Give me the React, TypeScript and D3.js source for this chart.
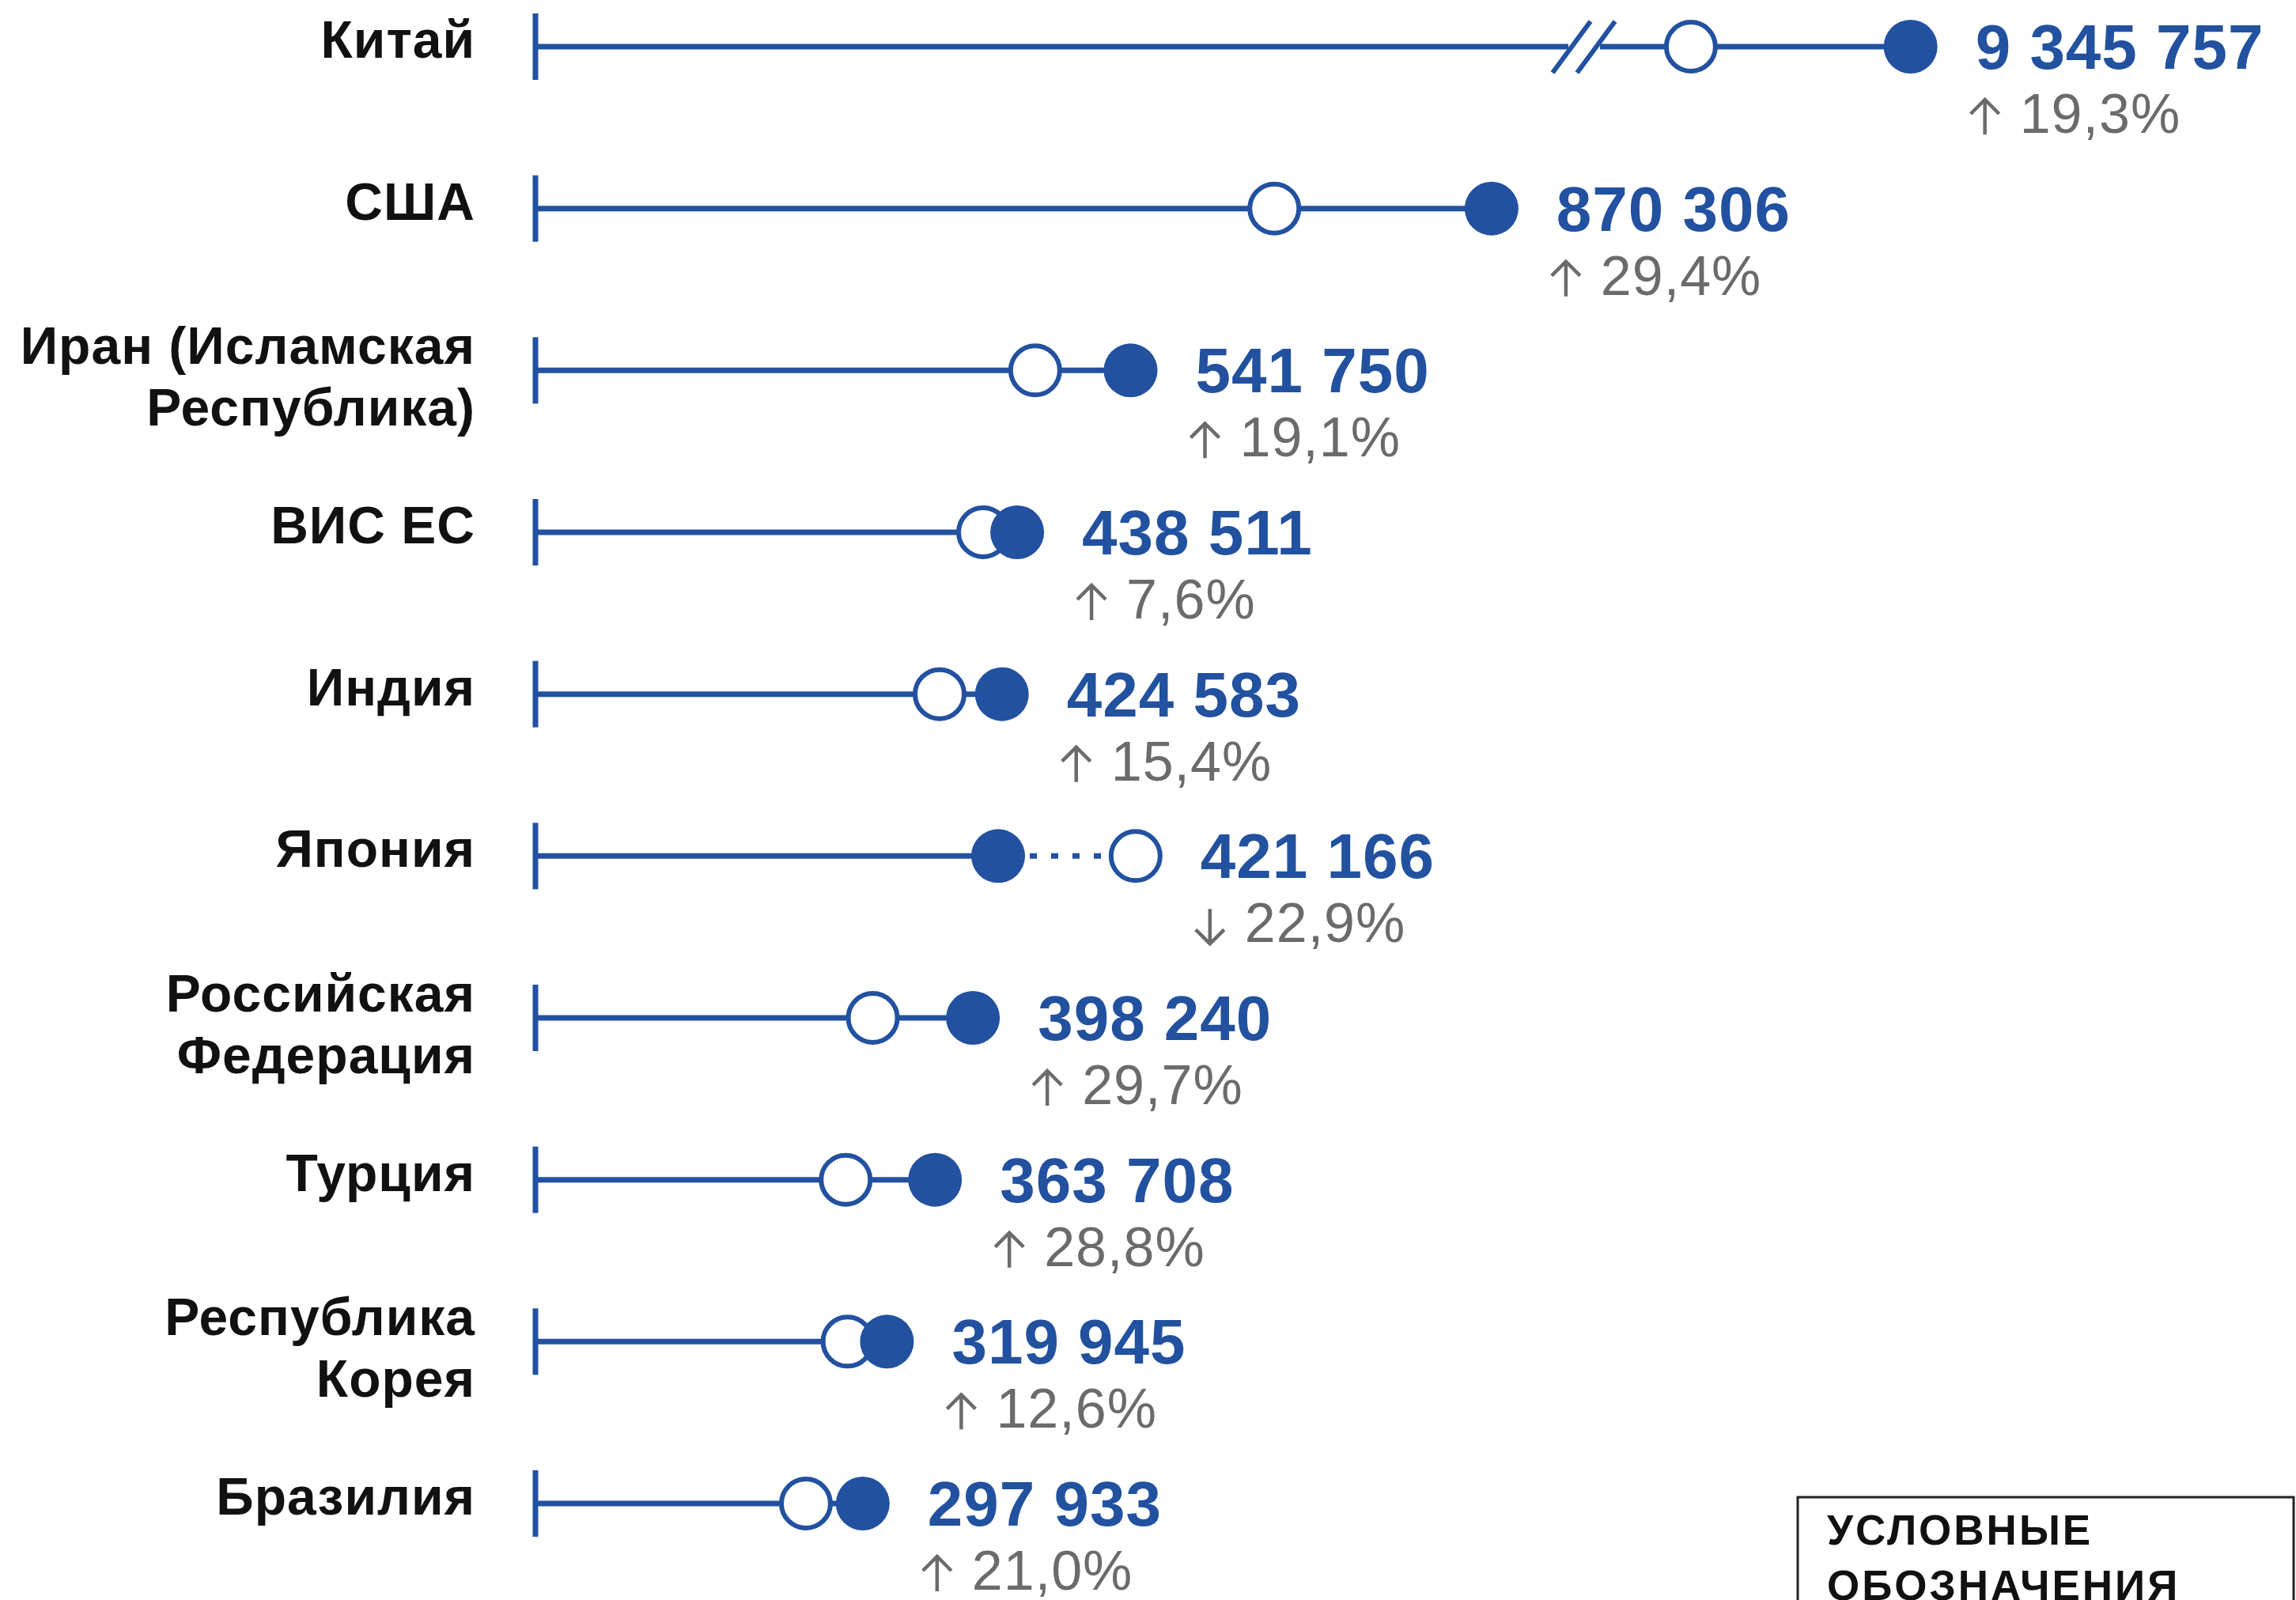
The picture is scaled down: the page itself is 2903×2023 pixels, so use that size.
import React from "react";
import * as d3 from "d3";

const width = 2903;
const height = 2023;

const blue = "#2251a0";
const gray = "#6b6b6b";
const font = "'Liberation Sans', Arial, Helvetica, sans-serif";

// data
const countryLabels = [
  ["Китай"],
  ["США"],
  ["Иран (Исламская", "Республика)"],
  ["ВИС ЕС"],
  ["Индия"],
  ["Япония"],
  ["Российская", "Федерация"],
  ["Турция"],
  ["Республика", "Корея"],
  ["Бразилия"],
];
const currentValues = [9345757, 870306, 541750, 438511, 424583, 421166, 398240, 363708, 319945, 297933];
const previousValues = [7834000, 672600, 454900, 407500, 367900, 546300, 307100, 282400, 284100, 246200];
const changePct = [19.3, 29.4, 19.1, 7.6, 15.4, -22.9, 29.7, 28.8, 12.6, 21.0];
const legendTitle = ["УСЛОВНЫЕ", "ОБОЗНАЧЕНИЯ"];

const ru = d3.formatLocale({ decimal: ",", thousands: " ", grouping: [3], currency: ["", ""] });
const fmtValue = ru.format(",d");
const fmtPct = ru.format(".1f");

const x0 = 677;
const x = d3.scaleLinear().domain([0, 1000000]).range([x0, 2066]);
// China sits past an axis break, on its own compressed scale
const breakValue = 7100000;
const xBreak = d3.scaleLinear().domain([breakValue, 9500000]).range([2003, 2444]);
const xPos = (v) => (v > breakValue ? xBreak(v) : x(v));

const y = d3.scalePoint().domain(d3.range(countryLabels.length)).range([59, 1901]);

const r = 34;
const gap = 48;

const App = () => {
  return (
    <svg
      width={width}
      height={height}
      style={{ position: "absolute", left: 0, top: 0, display: "block", background: "#fff" }}
      fontFamily={font}
    >
      {countryLabels.map((lines, i) => {
        const cy = y(i);
        const cur = currentValues[i];
        const prev = previousValues[i];
        const xc = xPos(cur);
        const xp = xPos(prev);
        const up = changePct[i] >= 0;
        const xMax = Math.max(xc, xp);
        const broken = cur > breakValue;
        const tx = xMax + r + gap;
        const labelY = lines.length === 1 ? [cy + 14] : [cy - 8, cy + 70];
        const bx = xBreak(breakValue);
        const ax = tx + 12;
        return (
          <g key={i}>
            {lines.map((t, j) => (
              <text
                key={j}
                x={601}
                y={labelY[j]}
                textAnchor="end"
                fontSize={66}
                fontWeight="bold"
                letterSpacing={1}
                fill="#111"
              >
                {t}
              </text>
            ))}
            <line x1={x0} x2={x0} y1={cy - 42} y2={cy + 42} stroke={blue} strokeWidth={7} />
            {broken ? (
              <g stroke={blue} strokeWidth={7}>
                <line x1={x0} x2={bx - 20} y1={cy} y2={cy} />
                <line x1={bx + 20} x2={xp} y1={cy} y2={cy} />
                <line x1={bx - 40} y1={cy + 33} x2={bx + 8} y2={cy - 32} strokeWidth={6} />
                <line x1={bx - 9} y1={cy + 33} x2={bx + 39} y2={cy - 32} strokeWidth={6} />
                <line x1={xp} x2={xc} y1={cy} y2={cy} />
              </g>
            ) : up ? (
              <line x1={x0} x2={xc} y1={cy} y2={cy} stroke={blue} strokeWidth={7} />
            ) : (
              <g stroke={blue} strokeWidth={7}>
                <line x1={x0} x2={xc} y1={cy} y2={cy} />
                <line x1={xc + r + 6} x2={xp - r} y1={cy} y2={cy} strokeDasharray="9 18" />
              </g>
            )}
            <circle cx={xp} cy={cy} r={r - 3} fill="#fff" stroke={blue} strokeWidth={6} />
            <circle cx={xc} cy={cy} r={r} fill={blue} />
            <text x={tx} y={cy + 28} fontSize={80} fontWeight="bold" fill={blue} letterSpacing={1}>
              {fmtValue(cur)}
            </text>
            <path
              d={
                up
                  ? `M${ax},${cy + 111} V${cy + 67} M${ax - 18},${cy + 85} L${ax},${cy + 67} L${ax + 18},${cy + 85}`
                  : `M${ax},${cy + 67} V${cy + 111} M${ax - 18},${cy + 93} L${ax},${cy + 111} L${ax + 18},${cy + 93}`
              }
              fill="none"
              stroke={gray}
              strokeWidth={4.5}
            />
            <text x={tx + 56} y={cy + 109} fontSize={70} fill={gray} letterSpacing={1}>
              {fmtPct(Math.abs(changePct[i])) + "%"}
            </text>
          </g>
        );
      })}
      <rect x={2273} y={1893} width={627} height={200} fill="none" stroke="#222" strokeWidth={3} />
      {legendTitle.map((t, j) => (
        <text key={j} x={2310} y={1953 + j * 70} fontSize={53} fontWeight="bold" fill="#111" letterSpacing={3}>
          {t}
        </text>
      ))}
    </svg>
  );
};

export default App;
